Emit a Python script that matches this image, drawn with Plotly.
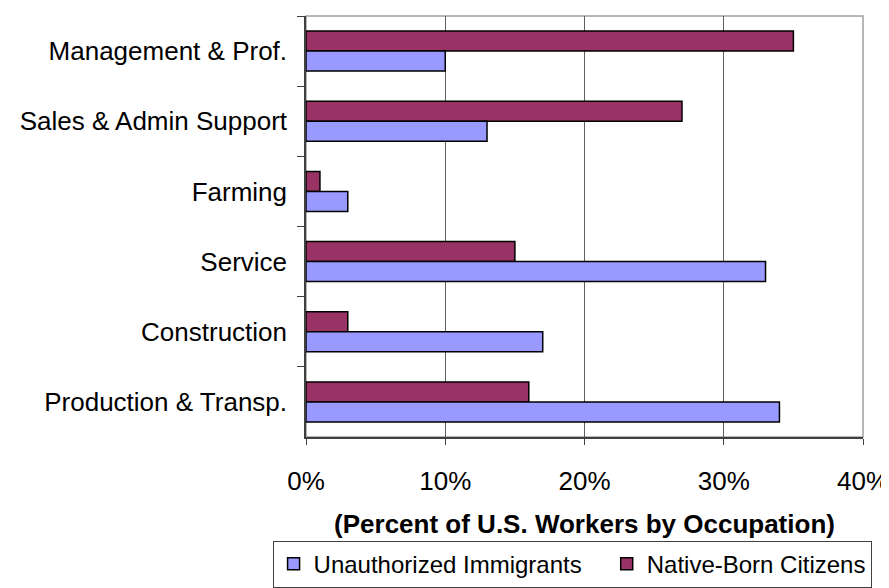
import plotly.graph_objects as go

categories = ["Management & Prof.", "Sales & Admin Support", "Farming", "Service",
              "Construction", "Production & Transp."]
unauthorized = [10, 13, 3, 33, 17, 34]
native_born = [35, 27, 1, 15, 3, 16]
x_ticks = [0, 10, 20, 30, 40]
x_ticklabels = ["0%", "10%", "20%", "30%", "40%"]

FONT = "Liberation Sans, Arial, sans-serif"
NBSP = "\u00a0"

fig = go.Figure()
fig.add_trace(go.Bar(
    y=categories, x=native_born, orientation="h", name="Native-Born Citizens",
    marker=dict(color="#993366", line=dict(color="#000000", width=1.5)),
    legendrank=2,
))
fig.add_trace(go.Bar(
    y=categories, x=unauthorized, orientation="h",
    name="Unauthorized Immigrants" + NBSP * 3,
    marker=dict(color="#9999FF", line=dict(color="#000000", width=1.5)),
    legendrank=1,
))

fig.update_layout(
    width=889, height=588,
    margin=dict(l=298, r=29, t=8, b=159),
    paper_bgcolor="white", plot_bgcolor="white",
    barmode="group", bargap=0.43, bargroupgap=0,
    font=dict(family=FONT, size=26, color="#000000"),
    showlegend=True,
    legend=dict(
        orientation="h", xanchor="left", x=-0.06, yanchor="bottom", y=-0.358,
        bordercolor="#404040", borderwidth=1, bgcolor="white",
        font=dict(family=FONT, size=24, color="#000000"),
        traceorder="normal",
    ),
    xaxis=dict(
        range=[0, 40], tickvals=x_ticks, ticktext=x_ticklabels,
        showgrid=True, gridcolor="#606060", gridwidth=1,
        showline=True, linecolor="#404040", linewidth=1.5,
        ticks="outside", ticklen=6, tickcolor="#404040",
        ticklabelstandoff=14,
        zeroline=False,
        title=dict(text="<b>(Percent of U.S. Workers by Occupation)</b>",
                   font=dict(family=FONT, size=26, color="#000000"), standoff=20),
    ),
    yaxis=dict(
        autorange="reversed", type="category",
        showline=True, linecolor="#404040", linewidth=1.5,
        ticks="outside", ticklen=7, tickcolor="#404040", tickson="boundaries",
        showgrid=False, ticklabelstandoff=12,
    ),
    shapes=[dict(type="rect", xref="paper", yref="paper", x0=0, x1=1, y0=0, y1=1,
                 line=dict(color="#A0A0A0", width=1.5), layer="below")],
)

fig.write_html("out.html")
